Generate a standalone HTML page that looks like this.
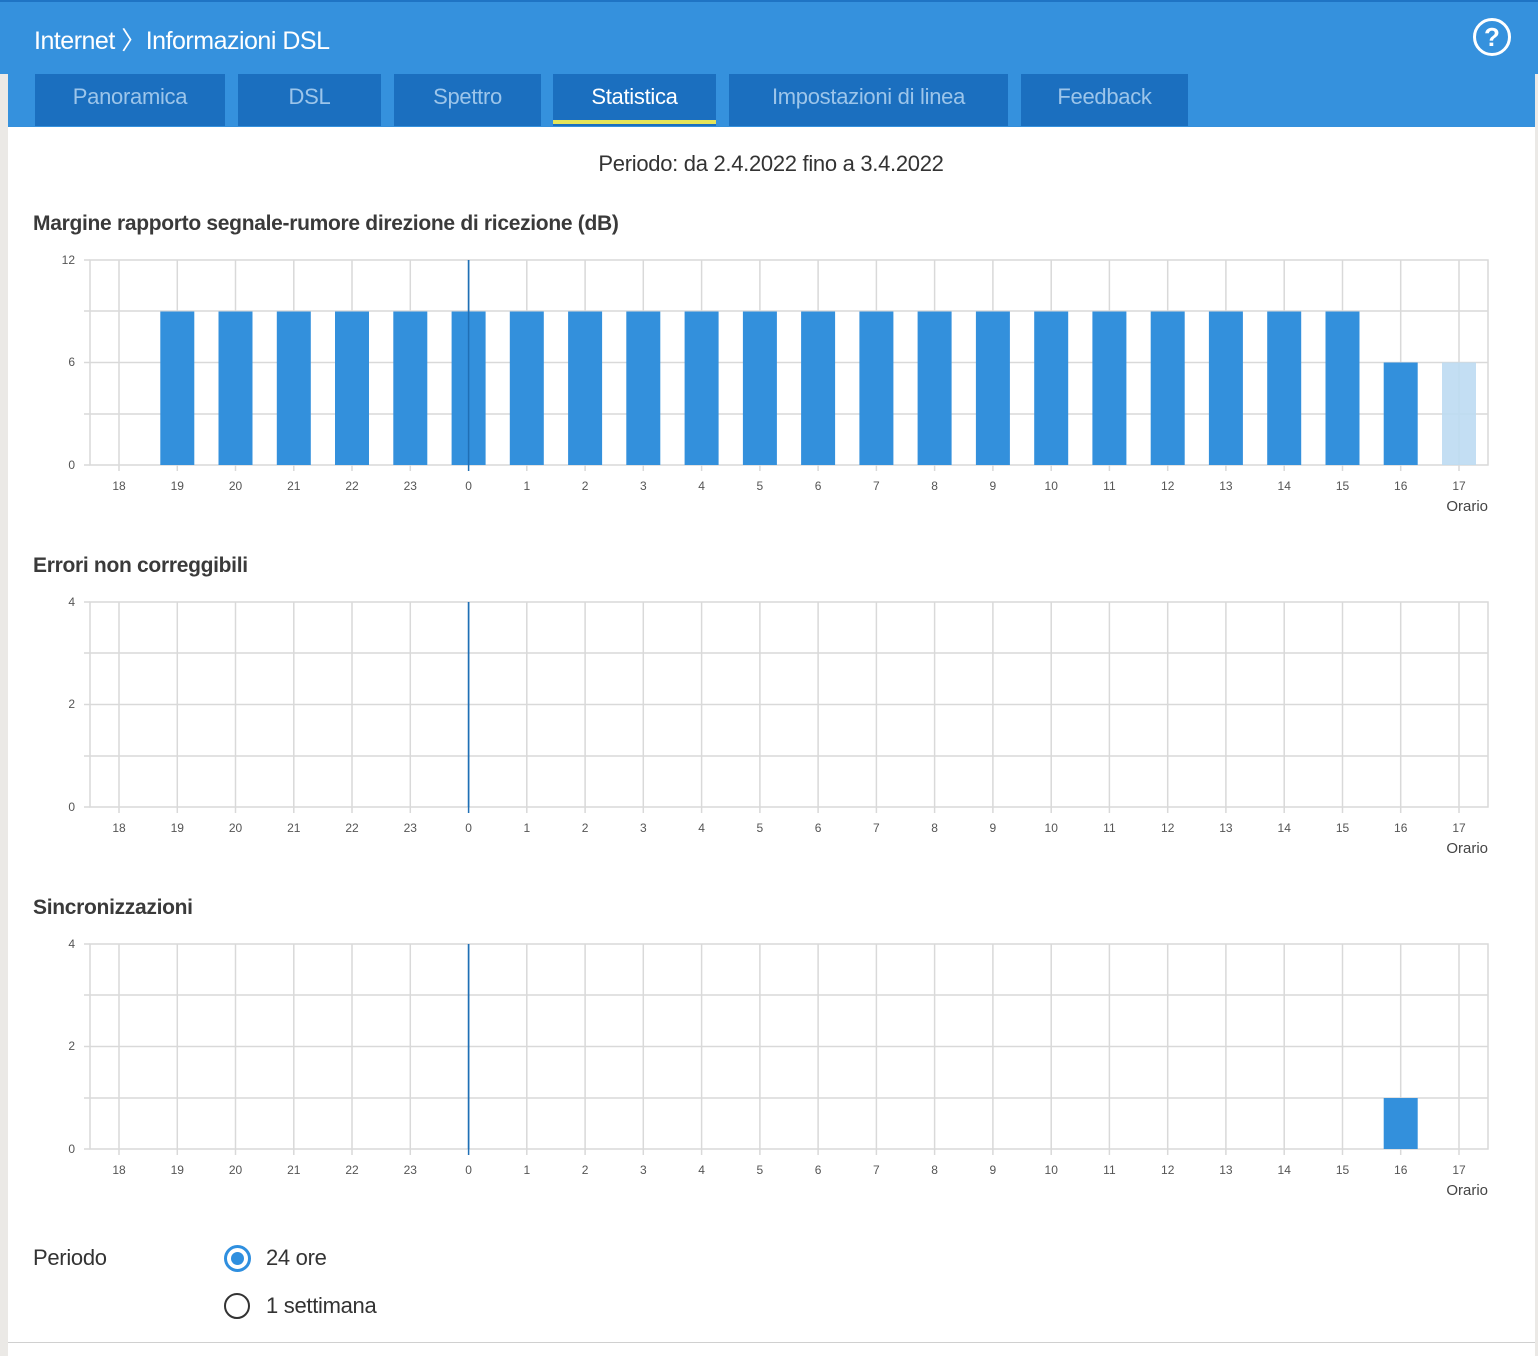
<!DOCTYPE html>
<html><head><meta charset="utf-8"><style>
body{margin:0;width:1538px;height:1356px;position:relative;background:#ebe9e6;font-family:"Liberation Sans",sans-serif;overflow:hidden}
.hdr{position:absolute;left:0;top:0;width:1538px;height:74px;background:#3591dd;border-top:2px solid #1f74c4;box-sizing:border-box}
.panel{position:absolute;left:8px;top:74px;width:1527px;height:1282px;background:#fff}
.bar2{position:absolute;left:8px;top:74px;width:1527px;height:53px;background:#3591dd}
.title{position:absolute;left:34px;top:21px;color:#fff;font-size:25px;letter-spacing:-0.5px}
.help{position:absolute;left:1473px;top:18px;width:32px;height:32px;border:3px solid #fff;border-radius:50%;color:#fff;font-size:26px;font-weight:bold;text-align:center;line-height:33px}
.tab{position:absolute;top:74px;height:52px;background:#1b6fbf;color:#9cc5ea;font-size:22px;text-align:center;line-height:46px;letter-spacing:-0.3px}
.tab.on{color:#fff}
.tab.on:after{content:"";position:absolute;left:0;right:0;bottom:2px;height:4px;background:#e4e45a}
.t{position:absolute;color:#333;font-size:22px;letter-spacing:-0.3px}
.h{font-weight:bold;color:#3a3a3a;font-size:21px}
</style></head><body>
<div class="hdr"></div>
<div class="panel"></div>
<div class="bar2"></div>
<div class="title">Internet 〉Informazioni DSL</div>
<div class="help">?</div>
<div class="tab" style="left:35px;width:190px">Panoramica</div>
<div class="tab" style="left:238px;width:143px">DSL</div>
<div class="tab" style="left:394px;width:147px">Spettro</div>
<div class="tab on" style="left:553px;width:163px">Statistica</div>
<div class="tab" style="left:729px;width:279px">Impostazioni di linea</div>
<div class="tab" style="left:1021px;width:167px">Feedback</div>
<div class="t" style="left:0;width:1542px;text-align:center;top:151px">Periodo: da 2.4.2022 fino a 3.4.2022</div>
<div class="t h" style="left:33px;top:212px">Margine rapporto segnale-rumore direzione di ricezione (dB)</div>
<div class="t h" style="left:33px;top:554px">Errori non correggibili</div>
<div class="t h" style="left:33px;top:896px">Sincronizzazioni</div>
<div class="t" style="left:33px;top:1245px">Periodo</div>
<div class="t" style="left:266px;top:1245px">24 ore</div>
<div class="t" style="left:266px;top:1293px">1 settimana</div>
<div style="position:absolute;left:224px;top:1245px;width:21px;height:21px;border:3px solid #2f8fdf;border-radius:50%"></div>
<div style="position:absolute;left:231px;top:1252px;width:13px;height:13px;background:#2f8fdf;border-radius:50%"></div>
<div style="position:absolute;left:224px;top:1293px;width:22px;height:22px;border:2px solid #333;border-radius:50%"></div>
<div style="position:absolute;left:8px;top:1342px;width:1527px;height:1px;background:#d0d0d0"></div>
<svg style="position:absolute;left:0;top:0" width="1538" height="1356" font-family="Liberation Sans,sans-serif" font-size="12" fill="#555">
<defs><g id="g" stroke="#d9d9d9" stroke-width="1.5" fill="none">
<rect x="90" y="0" width="1398" height="205"/>
<path d="M84 0H90M84 51H1488M84 102.5H1488M84 154H1488M84 205H90"/>
<path d="M119 0V211M177.3 0V211M235.5 0V211M293.8 0V211M352 0V211M410.3 0V211M526.8 0V211M585.1 0V211M643.3 0V211M701.6 0V211M759.9 0V211M818.1 0V211M876.4 0V211M934.6 0V211M992.9 0V211M1051.2 0V211M1109.4 0V211M1167.7 0V211M1225.9 0V211M1284.2 0V211M1342.5 0V211M1400.7 0V211M1459 0V211"/>
<path d="M468.6 0V211" stroke="#1f6fb5"/></g></defs>
<use href="#g" y="260"/><use href="#g" y="602"/><use href="#g" y="944"/>
<g fill="#3390dc">
<rect x="160.3" y="311.5" width="34" height="153.5"/><rect x="218.5" y="311.5" width="34" height="153.5"/><rect x="276.8" y="311.5" width="34" height="153.5"/><rect x="335" y="311.5" width="34" height="153.5"/><rect x="393.3" y="311.5" width="34" height="153.5"/><rect x="451.6" y="311.5" width="34" height="153.5"/><rect x="509.8" y="311.5" width="34" height="153.5"/><rect x="568.1" y="311.5" width="34" height="153.5"/><rect x="626.3" y="311.5" width="34" height="153.5"/><rect x="684.6" y="311.5" width="34" height="153.5"/><rect x="742.9" y="311.5" width="34" height="153.5"/><rect x="801.1" y="311.5" width="34" height="153.5"/><rect x="859.4" y="311.5" width="34" height="153.5"/><rect x="917.6" y="311.5" width="34" height="153.5"/><rect x="975.9" y="311.5" width="34" height="153.5"/><rect x="1034.2" y="311.5" width="34" height="153.5"/><rect x="1092.4" y="311.5" width="34" height="153.5"/><rect x="1150.7" y="311.5" width="34" height="153.5"/><rect x="1208.9" y="311.5" width="34" height="153.5"/><rect x="1267.2" y="311.5" width="34" height="153.5"/><rect x="1325.5" y="311.5" width="34" height="153.5"/><rect x="1383.7" y="362.5" width="34" height="102.5"/>
<rect x="1383.7" y="1098" width="34" height="51"/></g>
<rect x="1442" y="362.5" width="34" height="102.5" fill="#bcdaf2" fill-opacity="0.9"/>
<path d="M468.6 260V465M468.6 602V807M468.6 944V1149" stroke="#1f6fb5" stroke-width="1.5"/>
<g text-anchor="end"><text x="75" y="264">12</text><text x="75" y="366">6</text><text x="75" y="469">0</text>
<text x="75" y="606">4</text><text x="75" y="708">2</text><text x="75" y="811">0</text>
<text x="75" y="948">4</text><text x="75" y="1050">2</text><text x="75" y="1153">0</text></g>
<g text-anchor="middle">
<text y="490"><tspan x="119">18</tspan><tspan x="177.3">19</tspan><tspan x="235.5">20</tspan><tspan x="293.8">21</tspan><tspan x="352">22</tspan><tspan x="410.3">23</tspan><tspan x="468.6">0</tspan><tspan x="526.8">1</tspan><tspan x="585.1">2</tspan><tspan x="643.3">3</tspan><tspan x="701.6">4</tspan><tspan x="759.9">5</tspan><tspan x="818.1">6</tspan><tspan x="876.4">7</tspan><tspan x="934.6">8</tspan><tspan x="992.9">9</tspan><tspan x="1051.2">10</tspan><tspan x="1109.4">11</tspan><tspan x="1167.7">12</tspan><tspan x="1225.9">13</tspan><tspan x="1284.2">14</tspan><tspan x="1342.5">15</tspan><tspan x="1400.7">16</tspan><tspan x="1459">17</tspan></text>
<text y="832"><tspan x="119">18</tspan><tspan x="177.3">19</tspan><tspan x="235.5">20</tspan><tspan x="293.8">21</tspan><tspan x="352">22</tspan><tspan x="410.3">23</tspan><tspan x="468.6">0</tspan><tspan x="526.8">1</tspan><tspan x="585.1">2</tspan><tspan x="643.3">3</tspan><tspan x="701.6">4</tspan><tspan x="759.9">5</tspan><tspan x="818.1">6</tspan><tspan x="876.4">7</tspan><tspan x="934.6">8</tspan><tspan x="992.9">9</tspan><tspan x="1051.2">10</tspan><tspan x="1109.4">11</tspan><tspan x="1167.7">12</tspan><tspan x="1225.9">13</tspan><tspan x="1284.2">14</tspan><tspan x="1342.5">15</tspan><tspan x="1400.7">16</tspan><tspan x="1459">17</tspan></text>
<text y="1174"><tspan x="119">18</tspan><tspan x="177.3">19</tspan><tspan x="235.5">20</tspan><tspan x="293.8">21</tspan><tspan x="352">22</tspan><tspan x="410.3">23</tspan><tspan x="468.6">0</tspan><tspan x="526.8">1</tspan><tspan x="585.1">2</tspan><tspan x="643.3">3</tspan><tspan x="701.6">4</tspan><tspan x="759.9">5</tspan><tspan x="818.1">6</tspan><tspan x="876.4">7</tspan><tspan x="934.6">8</tspan><tspan x="992.9">9</tspan><tspan x="1051.2">10</tspan><tspan x="1109.4">11</tspan><tspan x="1167.7">12</tspan><tspan x="1225.9">13</tspan><tspan x="1284.2">14</tspan><tspan x="1342.5">15</tspan><tspan x="1400.7">16</tspan><tspan x="1459">17</tspan></text></g>
<g text-anchor="end" font-size="15" fill="#444"><text x="1488" y="511">Orario</text><text x="1488" y="853">Orario</text><text x="1488" y="1195">Orario</text></g>
</svg>
</body></html>
